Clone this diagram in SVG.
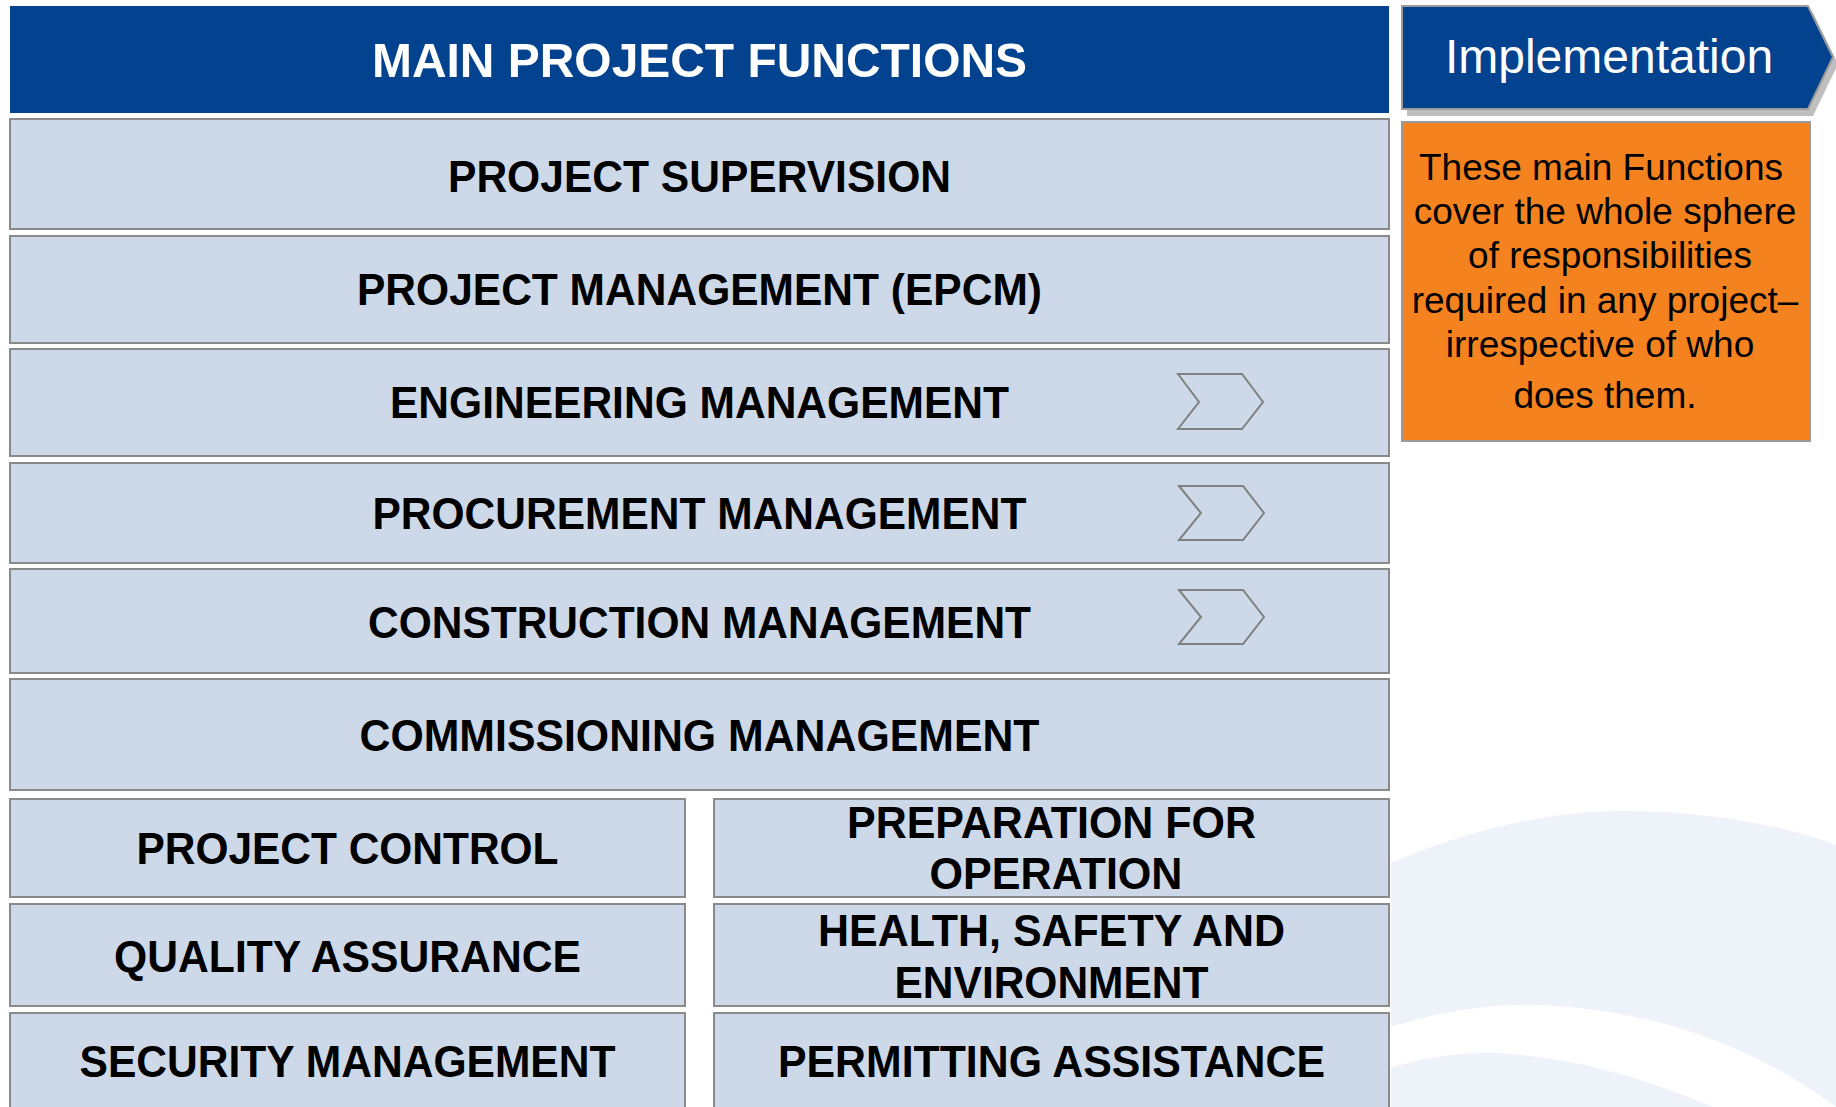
<svg xmlns="http://www.w3.org/2000/svg" width="1836" height="1107" viewBox="0 0 1836 1107">
<defs>
<style>
.box{fill:#CDD9E8;stroke:#8A8A8A;stroke-width:2}
.lbl{font-family:"Liberation Sans",Arial,sans-serif;font-weight:bold;font-size:44px;fill:#000;text-anchor:middle}
.chev{fill:none;stroke:#808080;stroke-width:2;stroke-linejoin:miter}
.bg{fill:#EEF3FA}
.note{font-family:"Liberation Sans",Arial,sans-serif;font-size:37px;fill:#000;text-anchor:middle}
</style>
<clipPath id="bgclip"><rect x="1391" y="700" width="445" height="407"/></clipPath>
</defs>
<rect width="1836" height="1107" fill="#FFFFFF"/>
<g id="background" clip-path="url(#bgclip)">
<path class="bg" d="M1390,863 C1480,825 1560,810 1630,811 C1720,812 1790,828 1836,845 L1836,1107 C1760,1050 1660,1010 1540,1005 C1480,1003 1430,1015 1390,1027 Z"/>
<path class="bg" d="M1390,1068 C1420,1058 1460,1052 1490,1053 C1570,1055 1650,1080 1713,1107 L1390,1107 Z"/>
</g>
<g id="header">
<rect x="10" y="6" width="1379" height="107" fill="#03428E"/>
<text x="699.5" y="77" font-family="Liberation Sans,Arial,sans-serif" font-weight="bold" font-size="49" fill="#FFFFFF" text-anchor="middle" textLength="655" lengthAdjust="spacingAndGlyphs">MAIN PROJECT FUNCTIONS</text>
</g>
<g id="implementation">
<polygon points="1402,6 1808,6 1833,57 1808,109 1402,109" fill="#BFBFBF" transform="translate(5,7)"/>
<polygon points="1402,6 1808,6 1833,57 1808,109 1402,109" fill="#03428E" stroke="#9A9A9A" stroke-width="2"/>
<text x="1609" y="73" font-family="Liberation Sans,Arial,sans-serif" font-size="48" fill="#FFFFFF" text-anchor="middle">Implementation</text>
</g>
<g id="note">
<rect x="1402" y="122" width="408" height="319" fill="#F4831F" stroke="#9A9A9A" stroke-width="2"/>
<text class="note" x="1601" y="180">These main Functions</text>
<text class="note" x="1605" y="224">cover the whole sphere</text>
<text class="note" x="1610" y="268">of responsibilities</text>
<text class="note" x="1605" y="313">required in any project–</text>
<text class="note" x="1600" y="357">irrespective of who</text>
<text class="note" x="1605" y="408">does them.</text>
</g>
<g id="project-supervision">
<rect class="box" x="10" y="119" width="1379" height="110"/>
<text class="lbl" x="699.5" y="192" textLength="503" lengthAdjust="spacingAndGlyphs">PROJECT SUPERVISION</text>
</g>
<g id="project-management">
<rect class="box" x="10" y="236" width="1379" height="107"/>
<text class="lbl" x="699.5" y="305" textLength="685" lengthAdjust="spacingAndGlyphs">PROJECT MANAGEMENT (EPCM)</text>
</g>
<g id="engineering-management">
<rect class="box" x="10" y="349" width="1379" height="107"/>
<text class="lbl" x="699.5" y="418" textLength="619" lengthAdjust="spacingAndGlyphs">ENGINEERING MANAGEMENT</text>
<polygon class="chev" points="1178,374 1242,374 1263,402 1242,429 1178,429 1199,402"/>
</g>
<g id="procurement-management">
<rect class="box" x="10" y="463" width="1379" height="100"/>
<text class="lbl" x="699.5" y="529" textLength="654" lengthAdjust="spacingAndGlyphs">PROCUREMENT MANAGEMENT</text>
<polygon class="chev" points="1179,486 1243,486 1264,513 1243,540 1179,540 1201,513"/>
</g>
<g id="construction-management">
<rect class="box" x="10" y="569" width="1379" height="104"/>
<text class="lbl" x="699.5" y="638" textLength="663" lengthAdjust="spacingAndGlyphs">CONSTRUCTION MANAGEMENT</text>
<polygon class="chev" points="1179,590 1243,590 1264,617 1243,644 1179,644 1201,617"/>
</g>
<g id="commissioning-management">
<rect class="box" x="10" y="679" width="1379" height="111"/>
<text class="lbl" x="699.5" y="751" textLength="680" lengthAdjust="spacingAndGlyphs">COMMISSIONING MANAGEMENT</text>
</g>
<g id="project-control">
<rect class="box" x="10" y="799" width="675" height="98"/>
<text class="lbl" x="347.5" y="864" textLength="422" lengthAdjust="spacingAndGlyphs">PROJECT CONTROL</text>
</g>
<g id="preparation-for-operation">
<rect class="box" x="714" y="799" width="675" height="98"/>
<text class="lbl" x="1051.5" y="838" textLength="409" lengthAdjust="spacingAndGlyphs">PREPARATION FOR</text>
<text class="lbl" x="1056" y="889" textLength="253" lengthAdjust="spacingAndGlyphs">OPERATION</text>
</g>
<g id="quality-assurance">
<rect class="box" x="10" y="904" width="675" height="102"/>
<text class="lbl" x="347.5" y="972" textLength="467" lengthAdjust="spacingAndGlyphs">QUALITY ASSURANCE</text>
</g>
<g id="hse">
<rect class="box" x="714" y="904" width="675" height="102"/>
<text class="lbl" x="1051.5" y="946" textLength="467" lengthAdjust="spacingAndGlyphs">HEALTH, SAFETY AND</text>
<text class="lbl" x="1051.5" y="998" textLength="314" lengthAdjust="spacingAndGlyphs">ENVIRONMENT</text>
</g>
<g id="security-management">
<rect class="box" x="10" y="1013" width="675" height="104"/>
<text class="lbl" x="347.5" y="1077" textLength="536" lengthAdjust="spacingAndGlyphs">SECURITY MANAGEMENT</text>
</g>
<g id="permitting-assistance">
<rect class="box" x="714" y="1013" width="675" height="104"/>
<text class="lbl" x="1051.5" y="1077" textLength="547" lengthAdjust="spacingAndGlyphs">PERMITTING ASSISTANCE</text>
</g>
<g id="connectors"/>
</svg>
